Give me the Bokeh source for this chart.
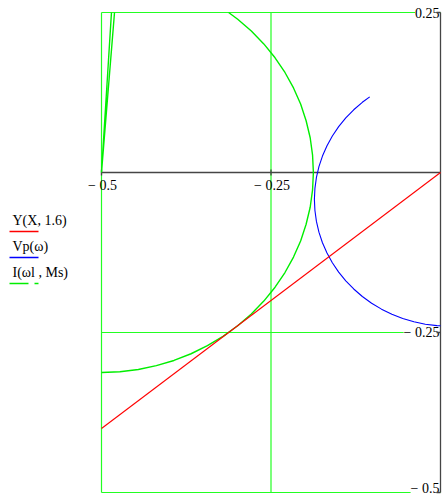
from bokeh.plotting import figure
from bokeh.models import Range1d, Label
from bokeh.embed import file_html
from bokeh.resources import INLINE

nan = float("nan")

# Y(X, 1.6): straight line
y_x = [-0.5, 0.0]
y_y = [-0.4, 0.0]

# Vp(w): arc to the right of the axis crossing
vp_x = [-0.1044, -0.1153, -0.1280, -0.1397, -0.1502, -0.1595, -0.1674, -0.1741,
        -0.1793, -0.1830, -0.1852, -0.1860, -0.1852, -0.1830, -0.1793, -0.1741,
        -0.1674, -0.1595, -0.1502, -0.1397, -0.1280, -0.1153, -0.1016, -0.0870,
        -0.0717, -0.0557, -0.0392, -0.0224, -0.0053, 0.0]
vp_y = [0.1182, 0.1097, 0.0980, 0.0853, 0.0716, 0.0570, 0.0417, 0.0257,
        0.0092, -0.0076, -0.0247, -0.0420, -0.0593, -0.0764, -0.0932, -0.1097,
        -0.1257, -0.1410, -0.1556, -0.1693, -0.1820, -0.1937, -0.2042, -0.2135,
        -0.2214, -0.2281, -0.2333, -0.2370, -0.2392, -0.2395]

# I(wl, Ms): narrow spike at the left edge, then the big arc
i_x = [-0.4853, -0.5, -0.4808, nan,
       -0.3125, -0.2991, -0.2790, -0.2606, -0.2440, -0.2294, -0.2168, -0.2063,
       -0.1982, -0.1922, -0.1887, -0.1875, -0.1887, -0.1922, -0.1982, -0.2063,
       -0.2168, -0.2294, -0.2440, -0.2606, -0.2790, -0.2991, -0.3208, -0.3438,
       -0.3679, -0.3931, -0.4191, -0.4457, -0.4728, -0.5]
i_y = [0.25, 0.0, 0.25, nan,
       0.25, 0.2394, 0.2210, 0.2009, 0.1792, 0.1563, 0.1321, 0.1069,
       0.0809, 0.0543, 0.0272, 0.0, -0.0272, -0.0543, -0.0809, -0.1069,
       -0.1321, -0.1563, -0.1792, -0.2009, -0.2210, -0.2394, -0.2560, -0.2706,
       -0.2832, -0.2937, -0.3018, -0.3078, -0.3113, -0.3125]

# axis limits, grid and tick labels
x_min, x_max = -0.5, 0.0
y_min, y_max = -0.5, 0.25
grid_x = [-0.5, -0.25]
grid_y = [0.25, -0.25, -0.5]
x_ticks = [-0.5, -0.25]
x_tick_labels = ["\u2212 0.5", "\u2212 0.25"]
y_ticks = [0.25, -0.25, -0.5]
y_tick_labels = ["0.25", "\u2212 0.25", "\u2212 0.5"]

legend_labels = ["Y(X, 1.6)", "Vp(\u03c9)", "I(\u03c9l , Ms)"]
legend_colors = ["#ff0000", "#0000ff", "#00ee00"]
legend_dashes = ["solid", "solid", "19 6 4 6"]

W, H = 443, 497
# pixel layout of the plot box
PX_LEFT, PX_RIGHT, PX_TOP, PX_BOTTOM = 101, 440, 12, 492
KX = (PX_RIGHT - PX_LEFT) / (x_max - x_min)
KY = (PX_BOTTOM - PX_TOP) / (y_max - y_min)
PX_ZERO_Y = PX_TOP + y_max * KY


def dx(px):
    return x_min + (px - PX_LEFT) / KX


def dy(py):
    return y_max - (py - PX_TOP) / KY


p = figure(width=W, height=H, output_backend="svg", toolbar_location=None,
           x_range=Range1d(dx(0), dx(W)), y_range=Range1d(dy(H), dy(0)),
           x_axis_type=None, y_axis_type=None, min_border=0)
p.min_border_left = p.min_border_right = p.min_border_top = p.min_border_bottom = 0
p.outline_line_color = None
p.background_fill_color = "white"
p.border_fill_color = "white"

FONT = "Liberation Serif"
GRID = "#22ff22"

# green grid
p.segment(x0=grid_x, y0=[y_min] * len(grid_x), x1=grid_x, y1=[y_max] * len(grid_x),
          line_color=GRID, line_width=1.2, level="image")
p.segment(x0=[x_min] * len(grid_y), y0=grid_y, x1=[x_max] * len(grid_y), y1=grid_y,
          line_color=GRID, line_width=1.2, level="image")

# tick labels below the horizontal axis
for t, s in zip(x_ticks, x_tick_labels):
    p.add_layout(Label(x=t + 1 / KX, y=dy(PX_ZERO_Y + 13), text=s,
                       text_align="center", text_baseline="middle", text_font=FONT,
                       text_font_size="14px", text_color="black", level="underlay"))
# tick labels left of the vertical axis, the lowest one kept inside the page
for t, s in zip(y_ticks, y_tick_labels):
    yy = max(t, dy(H - 9))
    p.add_layout(Label(x=dx(PX_RIGHT - 1), y=yy, text=s, text_align="right",
                       text_baseline="middle", text_font=FONT, text_font_size="14px",
                       text_color="black", background_fill_color="white",
                       level="underlay"))

# crossed axes
AX = "#454545"
p.line([x_min, x_max], [0, 0], line_color=AX, line_width=1.6)
p.line([0, 0], [y_min, y_max], line_color=AX, line_width=1.3)
p.segment(x0=x_ticks, y0=[dy(PX_ZERO_Y - 3)] * len(x_ticks), x1=x_ticks,
          y1=[dy(PX_ZERO_Y + 3)] * len(x_ticks), line_color=AX, line_width=1.3)
p.segment(x0=[dx(PX_RIGHT - 4)] * len(y_ticks), y0=y_ticks, x1=[0] * len(y_ticks),
          y1=y_ticks, line_color=AX, line_width=1.3)

# traces
p.line(i_x, i_y, line_color="#00ee00", line_width=1.4)
p.line(vp_x, vp_y, line_color="#0000ff", line_width=1.1)
p.line(y_x, y_y, line_color="#ff0000", line_width=1.1)

# legend at the left
for k, (s, c, d) in enumerate(zip(legend_labels, legend_colors, legend_dashes)):
    ty = 220 + 26 * k
    p.add_layout(Label(x=dx(12), y=dy(ty), text=s, text_align="left",
                       text_baseline="middle", text_font=FONT, text_font_size="14px",
                       text_color="black"))
    p.line([dx(9), dx(38)], [dy(ty + 11), dy(ty + 11)], line_color=c,
           line_width=1.3, line_dash=d)

open("out.html", "w").write(file_html(p, INLINE))
